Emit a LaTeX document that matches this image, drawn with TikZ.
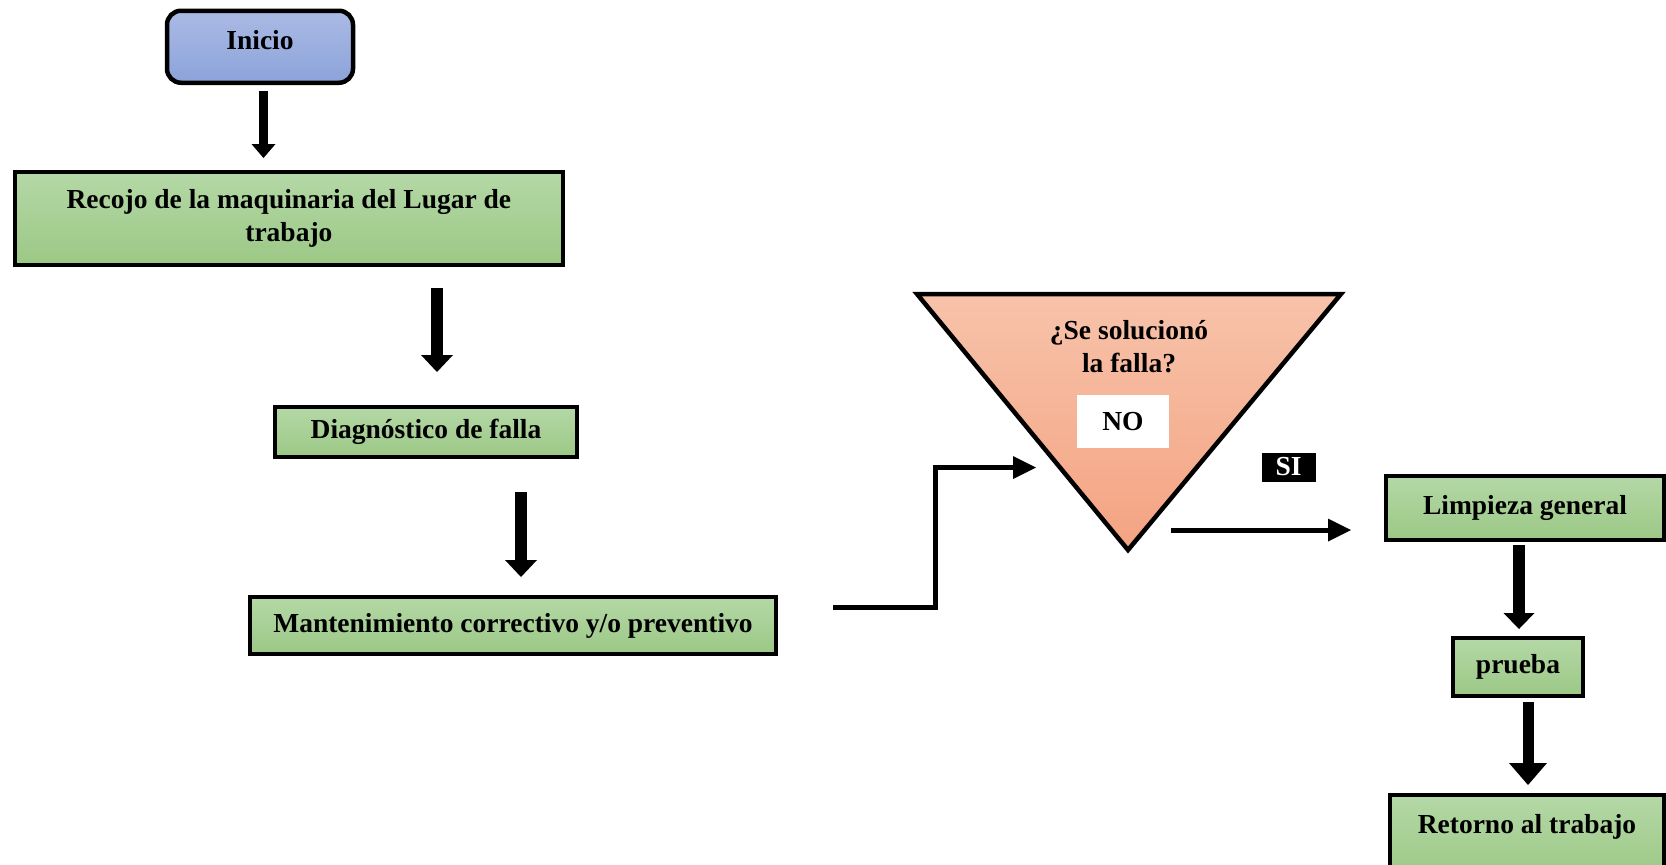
\documentclass[tikz,border=0pt]{standalone}
\usepackage{fontspec}
\setmainfont{Liberation Serif}
\usetikzlibrary{arrows.meta,calc}
\definecolor{bluetop}{HTML}{AABAE4}
\definecolor{bluebot}{HTML}{8CA3DA}
\definecolor{greentop}{HTML}{B4D8A6}
\definecolor{greenbot}{HTML}{9CC886}
\definecolor{salmtop}{HTML}{F7C3AA}
\definecolor{salmbot}{HTML}{F4A382}
\begin{document}
\begin{tikzpicture}[x=1pt,y=-1pt,
  txt/.style={font=\fontsize{27.5}{33}\selectfont\bfseries},
  box/.style={txt,draw=black,line width=4.5pt,top color=greentop,bottom color=greenbot,
    align=center,inner sep=0pt,outer sep=0pt},
  startbox/.style={box,top color=bluetop,bottom color=bluebot,rounded corners=14pt},
  fat/.style n args={3}{line width=#1,-{Triangle[width=#2,length=#3,line width=0pt]}},
  thinarrow/.style={line width=5pt,-{Triangle[width=23pt,length=23pt,line width=0pt]}}]
\clip (0,0) rectangle (1666,865);
\fill[white] (0,0) rectangle (1666,865);
% nodes
\node[startbox,minimum width=186pt,minimum height=72pt,text depth=14pt] (inicio) at (260,46.75) {Inicio};
\node[box,minimum width=548pt,minimum height=93pt] (recojo) at (288.9,218.5) {Recojo de la maquinaria del Lugar de\\trabajo};
\node[box,minimum width=302pt,minimum height=50pt] (diag) at (426,432) {Diagnóstico de falla};
\node[box,minimum width=526pt,minimum height=57pt] (mant) at (513,625.5) {Mantenimiento correctivo y/o preventivo};
\node[box,minimum width=278pt,minimum height=64pt] (limp) at (1525,508) {Limpieza general};
\node[box,minimum width=130pt,minimum height=58pt] (prueba) at (1518,667) {prueba};
\node[box,minimum width=274pt,minimum height=85pt,text depth=28pt] (retorno) at (1527,837.5) {Retorno al trabajo};
% decision triangle
\coordinate (tl) at (917,294);
\coordinate (tr) at (1341,294);
\coordinate (tb) at (1128,550);
\draw[line width=4.5pt,line join=miter,top color=salmtop,bottom color=salmbot] (tl) -- (tr) -- (tb) -- cycle;
\node[txt,align=center,inner sep=0pt] (q) at (1129,347) {¿Se solucionó\\la falla?};
\node[txt,fill=white,minimum width=92pt,minimum height=53pt,inner sep=0pt] (no) at (1123,421.5) {NO};
\node[txt,fill=black,text=white,minimum width=54pt,minimum height=29pt,inner sep=0pt] (si) at (1288.5,467) {SI};
\coordinate (tin) at (1036,467.5);
% connectors
\draw[fat={9pt}{24pt}{14pt}] ($(inicio.south)+(3.5,8.5)$) -- ($(recojo.north)+(-25.4,-14)$);
\draw[fat={12pt}{32pt}{17pt}] ($(recojo.south)+(148.1,23)$) -- ($(diag.north)+(11,-35)$);
\draw[fat={12pt}{32pt}{17pt}] ($(diag.south)+(95,35)$) -- ($(mant.north)+(8,-20)$);
\draw[thinarrow,line join=miter] ($(mant.east)+(57,-18.5)$) -- ++(102,0) |- (tin);
\draw[thinarrow] ($(tb)+(43,-20)$) -- ($(limp.west)+(-35,22)$);
\draw[fat={12pt}{31pt}{16pt}] ($(limp.south)+(-6,5)$) -- ($(prueba.north)+(1,-9)$);
\draw[fat={11pt}{38pt}{22pt}] ($(prueba.south)+(10,6)$) -- ($(retorno.north)+(1,-10)$);
\end{tikzpicture}
\end{document}
